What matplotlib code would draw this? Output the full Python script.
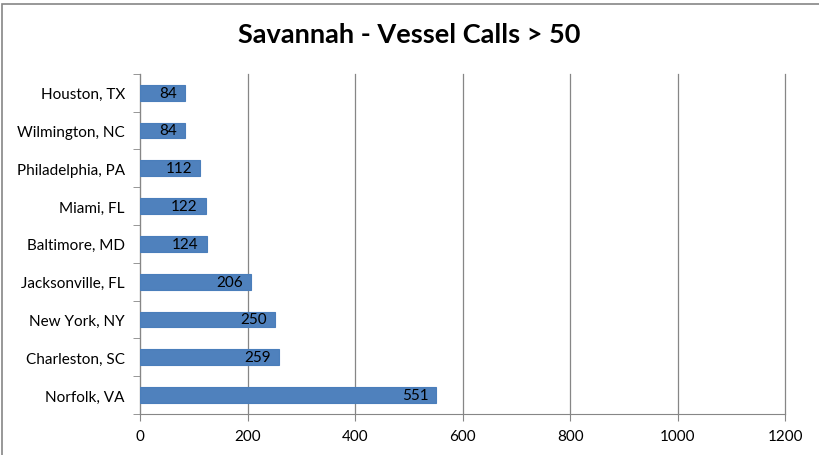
import numpy as np
import matplotlib.pyplot as plt
from matplotlib.patches import Rectangle

plt.rcParams['font.family'] = ['Lato', 'DejaVu Sans']

ports = ["Norfolk, VA", "Charleston, SC", "New York, NY", "Jacksonville, FL",
         "Baltimore, MD", "Miami, FL", "Philadelphia, PA", "Wilmington, NC", "Houston, TX"]
calls = [551, 259, 250, 206, 124, 122, 112, 84, 84]

fig = plt.figure(figsize=(8.19, 4.56), dpi=100)
ax = fig.add_axes([0.171, 0.09, 0.788, 0.746])

y = np.arange(len(ports))
ax.barh(y, calls, height=0.42, color='#4F81BD', edgecolor='#4A7EBB', linewidth=0.8, zorder=3)

for yi, v in zip(y, calls):
    ax.annotate(str(v), (v, yi), xytext=(-8, 0), textcoords='offset pixels',
                ha='right', va='center', fontsize=11, color='black', zorder=4)

ax.set_xlim(0, 1200)
ax.set_ylim(-0.5, len(ports) - 0.5)
ax.set_xticks(np.arange(0, 1201, 200))
ax.set_yticks(y)
ax.set_yticklabels(ports, fontsize=11)
ax.set_yticks(np.arange(-0.5, len(ports), 1), minor=True)
ax.tick_params(axis='y', which='major', length=0, pad=11)
ax.tick_params(axis='y', which='minor', length=5, color='#868686', direction='out')
ax.tick_params(axis='x', which='major', length=5, color='#868686', direction='out', labelsize=11, pad=6)

ax.grid(axis='x', color='#868686', linewidth=0.9, zorder=0)
for line in ax.get_xgridlines():
    line.set_clip_on(False)
for s in ['top', 'right']:
    ax.spines[s].set_visible(False)
for s in ['left', 'bottom']:
    ax.spines[s].set_color('#868686')

fig.text(0.5, 0.923, "Savannah - Vessel Calls > 50", ha='center', va='center',
         fontsize=19.5, fontweight='bold')

fig.patches.append(Rectangle((0.003, -0.01), 1.2, 1.0, transform=fig.transFigure,
                             fill=False, edgecolor='#868686', linewidth=1.2))

plt.savefig("out.png", dpi=100)
